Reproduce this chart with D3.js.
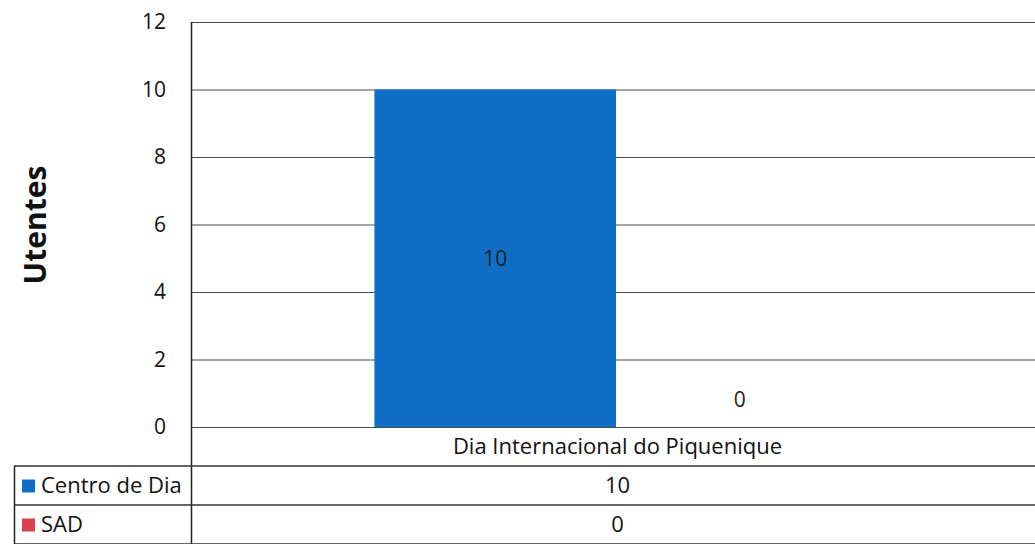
<!DOCTYPE html>
<meta charset="utf-8">
<style>
  body { margin: 0; background: #fff; }
  text { font-family: "Open Sans", Lato, sans-serif; fill: #111; }
</style>
<svg width="1035" height="544"></svg>
<script src="https://cdn.jsdelivr.net/npm/d3@7"></script>
<script>

    // data
    var categories = ["Dia Internacional do Piquenique"];
    var series = ["Centro de Dia", "SAD"];
    var colors = ["#0f6fc6", "#d9414e"];
    var centroDeDia = [10];
    var sad = [0];
    var yTicks = [0, 2, 4, 6, 8, 10, 12];
    var yTitle = "Utentes";

    var values = [centroDeDia, sad];

    var svg = d3.select("svg"),
        plot = {left: 191, right: 1044, top: 22, bottom: 427},
        rowH = 39,
        tableLeft = 14,
        fs = "22px";

    var x = d3.scaleBand()
        .domain(categories)
        .range([plot.left, plot.right]);

    var x1 = d3.scaleBand()
        .domain(series)
        .range([0, x.bandwidth()])
        .paddingInner(0.012)
        .paddingOuter(0.75);

    var y = d3.scaleLinear()
        .domain([0, 12])
        .range([plot.bottom, plot.top]);

    // gridlines
    svg.append("g")
        .selectAll("line")
        .data(yTicks)
        .enter().append("line")
        .attr("x1", plot.left)
        .attr("x2", plot.right)
        .attr("y1", d => y(d) + 0.5)
        .attr("y2", d => y(d) + 0.5)
        .attr("stroke", "#4a4a4a")
        .attr("stroke-width", 1.2);

    // y tick labels
    svg.append("g")
        .selectAll("text")
        .data(yTicks)
        .enter().append("text")
        .attr("x", 166)
        .attr("y", d => y(d))
        .attr("dy", "0.35em")
        .attr("text-anchor", "end")
        .style("font-size", "21px")
        .text(d => d);

    // y title
    svg.append("text")
        .attr("transform", "translate(46,225) rotate(-90)")
        .attr("text-anchor", "middle")
        .style("font-size", "30px")
        .style("font-weight", "bold")
        .text(yTitle);

    // bars
    var bars = [];
    categories.forEach((c, i) => {
        series.forEach((s, j) => bars.push({cat: c, s: s, j: j, v: values[j][i]}));
    });

    svg.append("g")
        .selectAll("rect")
        .data(bars)
        .enter().append("rect")
        .attr("x", d => x(d.cat) + x1(d.s))
        .attr("width", x1.bandwidth())
        .attr("y", d => y(d.v))
        .attr("height", d => y(0) - y(d.v))
        .attr("fill", d => colors[d.j]);

    // bar labels
    svg.append("g")
        .selectAll("text")
        .data(bars)
        .enter().append("text")
        .attr("x", d => x(d.cat) + x1(d.s) + x1.bandwidth() / 2)
        .attr("y", d => d.v > 0 ? (y(d.v) + y(0)) / 2 : y(0) - 27)
        .attr("dy", "0.35em")
        .attr("text-anchor", "middle")
        .style("font-size", "21px")
        .style("fill", "#222")
        .text(d => d.v);

    // axis line (left) through the table
    var tableBottom = plot.bottom + rowH * 3;
    svg.append("line")
        .attr("x1", plot.left + 0.5).attr("x2", plot.left + 0.5)
        .attr("y1", plot.top).attr("y2", tableBottom)
        .attr("stroke", "#222").attr("stroke-width", 1.5);

    // table row lines
    var rowLines = [1, 2, 3];
    svg.append("g")
        .selectAll("line")
        .data(rowLines)
        .enter().append("line")
        .attr("x1", tableLeft)
        .attr("x2", plot.right)
        .attr("y1", d => plot.bottom + rowH * d)
        .attr("y2", d => plot.bottom + rowH * d)
        .attr("stroke", "#333")
        .attr("stroke-width", 1.5);

    svg.append("line")
        .attr("x1", tableLeft + 0.5).attr("x2", tableLeft + 0.5)
        .attr("y1", plot.bottom + rowH).attr("y2", tableBottom)
        .attr("stroke", "#222").attr("stroke-width", 1.5);

    // category label row
    svg.append("g")
        .selectAll("text")
        .data(categories)
        .enter().append("text")
        .attr("x", d => x(d) + x.bandwidth() / 2)
        .attr("y", plot.bottom + rowH / 2)
        .attr("dy", "0.35em")
        .attr("text-anchor", "middle")
        .style("font-size", fs)
        .text(d => d);

    // legend rows
    var rows = svg.append("g")
        .selectAll("g")
        .data(series)
        .enter().append("g")
        .attr("transform", (d, j) => "translate(0," + (plot.bottom + rowH * (j + 1)) + ")");

    rows.append("rect")
        .attr("x", 22)
        .attr("y", rowH / 2 - 6)
        .attr("width", 13)
        .attr("height", 13)
        .attr("fill", (d, j) => colors[j]);

    rows.append("text")
        .attr("x", 41)
        .attr("y", rowH / 2)
        .attr("dy", "0.35em")
        .style("font-size", fs)
        .text(d => d);

    rows.selectAll("text.val")
        .data((d, j) => categories.map((c, i) => ({c: c, v: values[j][i]})))
        .enter().append("text")
        .attr("class", "val")
        .attr("x", d => x(d.c) + x.bandwidth() / 2)
        .attr("y", rowH / 2)
        .attr("dy", "0.35em")
        .attr("text-anchor", "middle")
        .style("font-size", fs)
        .text(d => d.v);

</script>
